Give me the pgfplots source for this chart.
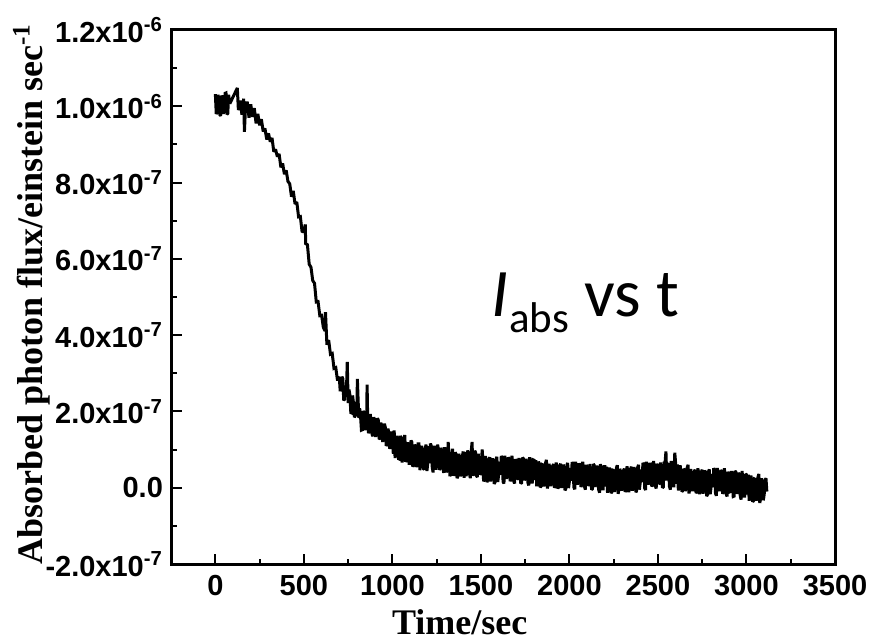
\documentclass[border=0pt]{standalone}
\usepackage{pgfplots}
\pgfplotsset{compat=1.18}
\usepackage{pgfplotstable}
\usepackage{fontspec}
\setmainfont{Liberation Sans}
\newfontfamily\timesfont{Liberation Serif}
\newfontfamily\calibri{Carlito}

% absorbed photon flux, in units of 1e-7 einstein/sec
\pgfplotstableread{
t y
0 10.32
5 9.80
10 9.84
15 10.30
20 10.17
25 9.78
30 9.75
35 10.28
40 10.23
45 9.80
50 9.96
55 10.34
60 10.35
65 9.79
70 9.81
75 10.30
80 10.11
85 10.10
124 10.48
130 9.90
140 10.15
150 9.78
160 10.20
164 9.33
170 9.95
180 10.12
190 9.70
200 10.05
210 9.72
220 9.95
230 9.55
240 9.80
250 9.50
260 9.66
270 9.34
280 9.42
290 9.13
300 9.29
310 9.07
320 9.17
330 8.81
340 8.87
350 8.68
360 8.75
370 8.40
380 8.50
390 8.22
400 8.32
410 8.03
420 7.97
430 7.63
440 7.78
450 7.44
460 7.49
470 7.10
480 7.11
490 6.70
500 6.74
508 6.90
510 6.40
520 6.37
530 5.86
540 5.78
550 5.43
560 5.36
570 4.87
580 4.88
590 4.51
600 4.52
610 4.20
620 4.11
622 4.60
630 3.75
640 3.87
650 3.50
660 3.52
670 3.13
680 3.15
690 2.81
700 2.91
705 2.53
710 2.63
715 2.91
720 2.86
725 2.29
730 2.32
735 2.68
740 2.48
745 3.30
750 2.22
755 2.57
760 2.43
765 1.97
770 1.96
775 2.42
780 2.23
785 1.85
790 1.88
795 2.25
800 2.15
802 2.85
810 1.83
815 2.08
820 1.88
825 1.51
830 1.52
835 2.01
840 1.97
845 1.51
850 1.61
855 1.97
857 2.70
860 1.91
865 1.43
870 1.49
875 1.93
880 1.73
885 1.40
890 1.35
895 1.85
900 1.73
905 1.33
910 1.48
915 1.82
920 1.78
925 1.27
930 1.30
935 1.71
940 1.53
945 1.20
950 1.33
955 1.68
960 1.58
965 1.10
970 1.13
975 1.55
980 1.43
985 1.02
990 1.10
995 1.47
1000 1.40
1005 0.89
1010 1.50
1015 0.78
1020 0.90
1025 1.36
1030 1.27
1035 0.76
1040 0.75
1045 1.36
1050 1.29
1055 0.66
1060 0.94
1065 1.29
1070 1.38
1075 0.68
1080 0.72
1085 1.19
1090 1.05
1095 0.60
1100 0.77
1105 1.24
1110 1.19
1115 0.55
1120 0.60
1125 1.13
1130 1.08
1135 0.54
1140 0.68
1145 1.15
1150 1.15
1155 0.46
1160 0.79
1165 1.10
1170 0.95
1175 0.50
1180 0.48
1185 1.02
1190 1.13
1195 0.44
1200 0.66
1205 1.09
1210 0.64
1215 1.16
1220 1.09
1225 0.54
1230 0.40
1235 1.10
1240 0.85
1245 0.47
1250 0.67
1255 1.13
1260 1.01
1265 0.47
1270 0.51
1275 1.05
1280 0.90
1285 0.51
1290 0.39
1295 1.06
1300 0.95
1305 0.40
1310 0.51
1315 1.20
1320 0.76
1325 0.30
1330 0.40
1335 0.89
1340 1.02
1345 0.31
1350 0.55
1355 0.93
1360 0.87
1365 0.25
1370 0.30
1375 0.89
1380 0.78
1385 0.30
1390 0.38
1395 0.83
1400 0.95
1405 0.26
1410 0.94
1415 0.31
1420 0.36
1425 0.98
1430 0.74
1435 0.38
1440 0.25
1445 0.94
1450 1.20
1455 0.31
1460 0.47
1465 0.97
1470 0.92
1475 0.31
1480 0.28
1485 0.89
1490 0.63
1495 0.35
1500 0.37
1507 1.00
1510 0.79
1515 0.17
1520 0.21
1525 0.83
1530 0.71
1535 0.14
1540 0.31
1545 0.74
1550 0.80
1555 0.16
1560 0.44
1565 0.77
1570 0.61
1575 0.10
1580 0.15
1585 0.74
1590 0.81
1595 0.15
1600 0.34
1605 0.68
1610 0.34
1615 0.83
1620 0.79
1625 0.16
1630 0.11
1635 0.84
1640 0.57
1645 0.23
1650 0.38
1655 0.80
1660 0.73
1665 0.17
1670 0.23
1675 0.84
1680 0.61
1685 0.18
1690 0.11
1695 0.75
1700 0.67
1705 0.22
1710 0.24
1715 0.78
1720 0.49
1725 0.11
1730 0.13
1735 0.79
1740 0.76
1745 0.19
1750 0.30
1755 0.76
1760 0.62
1765 0.14
1770 0.06
1775 0.80
1780 0.54
1785 0.15
1790 0.15
1795 0.73
1800 0.72
1805 0.20
1810 0.72
1815 0.04
1820 0.14
1825 0.69
1830 0.53
1835 0.01
1840 0.04
1845 0.61
1850 0.60
1855 0.03
1860 0.27
1865 0.65
1870 0.73
1875 -0.02
1880 0.10
1885 0.63
1890 0.45
1895 0.04
1900 0.19
1905 0.57
1910 0.62
1915 0.00
1920 0.04
1925 0.66
1930 0.54
1935 -0.03
1940 0.14
1945 0.57
1950 0.63
1955 -0.01
1960 0.27
1965 0.61
1970 0.45
1975 -0.07
1980 -0.02
1985 0.58
1990 0.65
1995 -0.01
2000 0.18
2005 0.52
2010 0.18
2015 0.67
2020 0.63
2025 0.01
2030 -0.04
2035 0.68
2040 0.41
2045 0.08
2050 0.23
2055 0.64
2060 0.57
2065 0.02
2070 0.08
2075 0.68
2080 0.46
2085 0.03
2090 -0.05
2095 0.60
2100 0.52
2105 0.06
2110 0.08
2115 0.62
2120 0.32
2125 -0.05
2130 -0.03
2135 0.62
2140 0.59
2145 0.02
2150 0.12
2155 0.58
2160 0.44
2165 -0.05
2170 -0.13
2175 0.62
2180 0.36
2185 -0.03
2190 -0.03
2195 0.55
2200 0.55
2205 0.03
2210 0.55
2215 -0.13
2220 -0.02
2225 0.53
2230 0.38
2235 -0.14
2240 -0.11
2245 0.46
2250 0.45
2255 -0.11
2260 0.13
2265 0.51
2270 0.59
2275 -0.16
2280 -0.03
2285 0.50
2290 0.32
2295 -0.08
2300 0.07
2305 0.45
2310 0.50
2315 -0.11
2320 -0.06
2325 0.56
2330 0.44
2335 -0.12
2340 0.06
2345 0.49
2350 0.55
2355 -0.08
2360 0.20
2365 0.54
2370 0.39
2375 -0.12
2380 -0.07
2385 0.53
2390 0.60
2395 -0.05
2400 0.14
2405 0.48
2410 0.15
2415 0.65
2420 0.61
2425 -0.01
2430 -0.06
2435 0.68
2440 0.41
2445 0.08
2450 0.23
2455 0.65
2460 0.58
2465 0.03
2470 0.09
2475 0.70
2480 0.48
2485 0.05
2490 -0.02
2495 0.63
2500 0.55
2505 0.10
2510 0.12
2515 0.66
2520 0.37
2525 0.00
2530 0.02
2535 0.68
2540 0.65
2545 0.95
2550 0.19
2555 0.65
2560 0.51
2565 0.03
2570 -0.05
2575 0.70
2580 0.44
2585 0.05
2590 0.05
2595 0.92
2600 0.62
2605 0.10
2610 0.61
2615 -0.07
2620 0.04
2625 0.59
2630 0.42
2635 -0.10
2640 -0.08
2645 0.49
2650 0.47
2655 -0.09
2660 0.15
2665 0.53
2670 0.60
2675 -0.15
2680 -0.04
2685 0.49
2690 0.31
2695 -0.09
2700 0.05
2705 0.43
2710 0.47
2715 -0.14
2720 -0.11
2725 0.51
2730 0.39
2735 -0.17
2740 -0.01
2745 0.42
2750 0.47
2755 -0.16
2760 0.12
2765 0.46
2770 0.29
2775 -0.22
2780 -0.18
2785 0.42
2790 0.48
2795 -0.17
2800 0.02
2805 0.36
2810 0.01
2815 0.51
2820 0.47
2825 -0.15
2830 -0.21
2835 0.52
2840 0.24
2845 -0.09
2850 0.05
2855 0.47
2860 0.39
2865 -0.16
2870 -0.10
2875 0.51
2880 0.28
2885 -0.15
2890 -0.23
2895 0.42
2900 0.34
2905 -0.11
2910 -0.10
2915 0.44
2920 0.14
2925 -0.23
2930 -0.22
2935 0.44
2940 0.41
2945 -0.16
2950 -0.06
2955 0.40
2960 0.25
2965 -0.23
2970 -0.31
2975 0.44
2980 0.17
2985 -0.22
2990 -0.22
2995 0.36
3000 0.34
3005 -0.18
3010 0.34
3015 -0.34
3020 -0.23
3025 0.32
3030 0.16
3035 -0.37
3040 -0.34
3045 0.23
3050 0.22
3055 -0.34
3060 -0.10
3065 0.28
3070 0.36
3075 -0.40
3080 -0.28
3085 0.25
3090 0.07
3095 -0.33
3100 -0.18
3105 0.20
3110 0.25
3115 -0.10
}\fluxdata

\begin{document}
\begin{tikzpicture}
\useasboundingbox (-86pt,-39.5pt) rectangle (349pt,282pt);
\begin{axis}[
    scale only axis,
    width=331.5pt, height=267pt,
    xmin=-245, xmax=3500,
    ymin=-2, ymax=12,
    xtick={0,500,...,3500},
    minor xtick={250,750,...,3250},
    ytick={-2,0,2,4,6,8,10,12},
    minor ytick={-1,1,3,5,7,9,11},
    yticklabels={-2.0x10\textsuperscript{-7},0.0,2.0x10\textsuperscript{-7},4.0x10\textsuperscript{-7},6.0x10\textsuperscript{-7},8.0x10\textsuperscript{-7},1.0x10\textsuperscript{-6},1.2x10\textsuperscript{-6}},
    xtick pos=lower, ytick pos=left,
    tick align=inside,
    major tick length=5pt, minor tick length=2.5pt,
    every tick/.style={black, line width=1pt},
    axis line style={line width=1.5pt},
    /pgf/number format/assume math mode=true,
    /pgf/number format/1000 sep={},
    ticklabel style={font=\bfseries\fontsize{14.5}{16}\selectfont},
    yticklabel style={xshift=-1pt},
    xticklabel style={yshift=-2pt},
    xlabel={Time/sec},
    ylabel={Absorbed photon flux/einstein sec\textsuperscript{-1}},
    label style={font=\timesfont\bfseries\fontsize{18}{20}\selectfont},
    xlabel style={at={(axis description cs:0.434,0)}, anchor=north, yshift=-19pt},
    ylabel style={at={(axis description cs:-0.212,0.505)}, anchor=center},
    clip=false,
]
\addplot[black, line width=1.5pt, sharp plot, mark=none, line join=miter, miter limit=2] table[x=t, y=y] {\fluxdata};
\node[anchor=base west, inner sep=0pt, font=\calibri\fontsize{34}{40}\selectfont]
    at (axis cs:1560,4.48) {\textit{I}\raisebox{-8pt}{\fontsize{21.5}{24}\selectfont abs} vs t};
\end{axis}
\end{tikzpicture}
\end{document}
